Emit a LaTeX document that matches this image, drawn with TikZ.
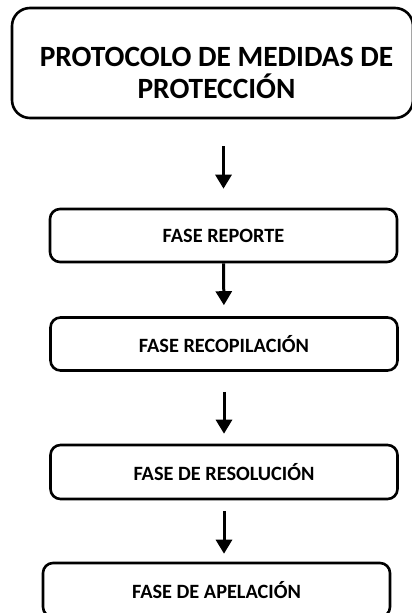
\documentclass[tikz,border=0pt]{standalone}
\usepackage{fontspec}
\setmainfont{Carlito}
\usetikzlibrary{arrows.meta}

\begin{document}
\begin{tikzpicture}[x=1pt,y=-1pt,
    topbox/.style={draw,line width=2.6pt,rounded corners=18pt,minimum width=401pt,minimum height=110pt,inner sep=0pt},
    fasebox/.style={draw,line width=2.6pt,rounded corners=10pt,minimum width=347pt,minimum height=53pt,inner sep=0pt,font=\fontsize{20.3}{24}\selectfont\bfseries},
    titletext/.style={align=center,font=\fontsize{29.4}{32}\selectfont\bfseries},
    flecha/.style={line width=3pt,-{Triangle[width=16pt,length=14pt]}}]
  \useasboundingbox (0,0) rectangle (412,613);
  \node[topbox,label={[titletext,xshift=4pt,yshift=-10pt]center:PROTOCOLO DE MEDIDAS DE\\PROTECCIÓN}] (top) at (212.5,63) {};
  \node[fasebox] (reporte) at (223.5,235.5) {FASE REPORTE};
  \node[fasebox] (recopilacion) at (224,344) {FASE RECOPILACIÓN};
  \node[fasebox,minimum height=54pt] (resolucion) at (224,472) {FASE DE RESOLUCIÓN};
  \node[fasebox,minimum height=54pt] (apelacion) at (216.5,590) {FASE DE APELACIÓN};

  \draw[flecha,shorten <=27pt,shorten >=19pt] (top.south -| reporte.north) -- (reporte.north);
  \draw[flecha,shorten >=11pt] (reporte.south) -- (recopilacion.north);
  \draw[flecha,shorten <=20pt,shorten >=10pt] (recopilacion.south) -- (resolucion.north);
  \draw[flecha,shorten <=11pt,shorten >=8pt] (resolucion.south) -- (resolucion.south |- apelacion.north);
\end{tikzpicture}
\end{document}
